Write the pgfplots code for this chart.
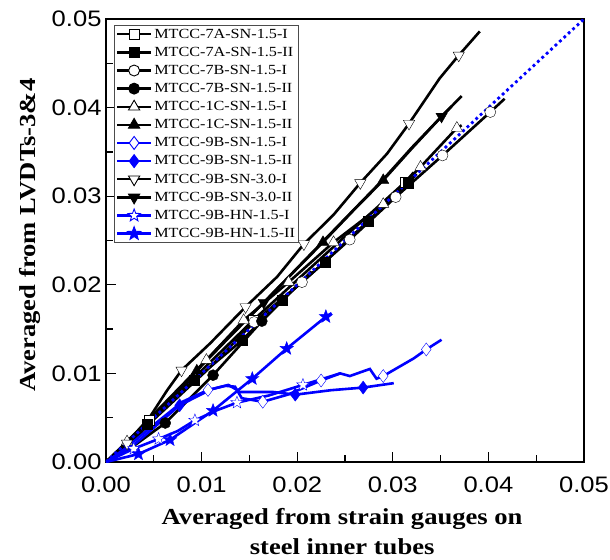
\documentclass[border=0pt]{standalone}
\usepackage{fontspec}
\setmainfont{Liberation Serif}[FakeStretch=1.16]
\setsansfont{Liberation Sans}[FakeStretch=1.14]
\usepackage{pgfplots}
\pgfplotsset{compat=1.18}
\usetikzlibrary{plotmarks}
\definecolor{myblue}{RGB}{0,0,255}
\pgfdeclareplotmark{fstar}{%
  \pgfpathmoveto{\pgfpointpolar{90}{\pgfplotmarksize}}%
  \pgfpathlineto{\pgfpointpolar{126}{0.42\pgfplotmarksize}}%
  \pgfpathlineto{\pgfpointpolar{162}{\pgfplotmarksize}}%
  \pgfpathlineto{\pgfpointpolar{198}{0.42\pgfplotmarksize}}%
  \pgfpathlineto{\pgfpointpolar{234}{\pgfplotmarksize}}%
  \pgfpathlineto{\pgfpointpolar{270}{0.42\pgfplotmarksize}}%
  \pgfpathlineto{\pgfpointpolar{306}{\pgfplotmarksize}}%
  \pgfpathlineto{\pgfpointpolar{342}{0.42\pgfplotmarksize}}%
  \pgfpathlineto{\pgfpointpolar{18}{\pgfplotmarksize}}%
  \pgfpathlineto{\pgfpointpolar{54}{0.42\pgfplotmarksize}}%
  \pgfpathclose
  \pgfusepathqfillstroke}
\pgfplotsset{
  ln/.style={line width=2.6bp, no markers, forget plot},
  mk/.style={only marks, mark options={solid, line width=0.8bp},
    legend image code/.code={\draw[solid, line width=2.4bp] (0bp,0bp) -- (34bp,0bp); \draw plot coordinates {(17bp,0bp)};}},
}
\begin{document}
\begin{tikzpicture}
\begin{axis}[
  scale only axis, width=478bp, height=443bp,
  xmin=0, xmax=0.05, ymin=0, ymax=0.05,
  axis line style={line width=1.8bp},
  xtick={0,0.01,0.02,0.03,0.04,0.05},
  ytick={0,0.01,0.02,0.03,0.04,0.05},
  minor tick num=1,
  tick align=inside, xtick pos=bottom, ytick pos=left,
  major tick length=10bp, minor tick length=7bp,
  every tick/.style={line width=1.3bp, black},
  scaled ticks=false,
  tick label style={font=\fontsize{22.5}{22.5}\sffamily, /pgf/number format/fixed, /pgf/number format/fixed zerofill, /pgf/number format/precision=2, /pgf/number format/assume math mode=true},
  xticklabel style={yshift=-11bp},
  yticklabel style={xshift=-1bp},
  every axis y label/.style={at={(axis description cs:-0.159,0.512)}, rotate=90, anchor=center},
  every axis x label/.style={at={(axis description cs:0.494,-0.097)}, anchor=north, align=center},
  label style={font=\fontsize{23}{30}\selectfont\bfseries},
  xlabel={Averaged from strain gauges on\\steel inner tubes},
  ylabel={Averaged from LVDTs-3\&4},
  clip mode=individual,
  legend cell align=left,
  legend style={at={(0.0167,0.9865)}, anchor=north west, font=\fontsize{14}{14}\selectfont,
    draw=black!70, line width=0.9bp, inner sep=1.5bp, row sep=3.4bp},
]
% ---------- lines ----------
% 7A-SN-1.5-I
\addplot[ln, black] coordinates {(0,0) (0.0045,0.0047) (0.0095,0.0098) (0.0154,0.0160) (0.0230,0.0235) (0.0313,0.0316) (0.0322,0.0327)};
% 7A-SN-1.5-II
\addplot[ln, black] coordinates {(0,0) (0.0043,0.0043) (0.0092,0.0092) (0.0142,0.0137) (0.0184,0.0183) (0.0229,0.0226) (0.0274,0.0272) (0.0316,0.0315) (0.0325,0.0325)};
% 7B-SN-1.5-I
\addplot[ln, black] coordinates {(0,0) (0.0020,0.0018) (0.0050,0.0048) (0.0105,0.0103) (0.0155,0.0158) (0.0205,0.0203) (0.0255,0.0251) (0.0303,0.0299) (0.0352,0.0346) (0.0402,0.0395) (0.0417,0.0410)};
% 7B-SN-1.5-II
\addplot[ln, black] coordinates {(0,0) (0.0025,0.0015) (0.0062,0.0044) (0.0112,0.0098) (0.0163,0.0159) (0.0215,0.0215)};
% 1C-SN-1.5-I
\addplot[ln, black] coordinates {(0,0) (0.0022,0.0023) (0.0105,0.0115) (0.0144,0.0160) (0.0191,0.0203) (0.0238,0.0248) (0.0290,0.0291) (0.0329,0.0333) (0.0367,0.0377) (0.0372,0.0380)};
% 1C-SN-1.5-II
\addplot[ln, black] coordinates {(0,0) (0.0030,0.0025) (0.0060,0.0062) (0.0095,0.0103) (0.0130,0.0142) (0.0165,0.0180) (0.0195,0.0213) (0.0227,0.0248) (0.0258,0.0283) (0.0290,0.0318) (0.0320,0.0354) (0.0351,0.0390) (0.0372,0.0413)};
% 9B-SN-3.0-I
\addplot[ln, black] coordinates {(0,0) (0.0022,0.0021) (0.0046,0.0051) (0.0064,0.0081) (0.0079,0.01035) (0.0109,0.0134) (0.0146,0.0175) (0.0179,0.0209) (0.0207,0.0246) (0.0238,0.0279) (0.0266,0.0315) (0.0294,0.0348) (0.0317,0.0382) (0.0349,0.0433) (0.0369,0.0459) (0.0391,0.0486)};
% 9B-SN-3.0-II
\addplot[ln, black] coordinates {(0,0) (0.0030,0.0026) (0.0060,0.0063) (0.0095,0.0104) (0.0130,0.0143) (0.0165,0.0180) (0.0227,0.0249) (0.0290,0.0319) (0.0320,0.0355) (0.0351,0.0390) (0.0362,0.0402)};
% reference line y = x
\addplot[myblue, line width=2.8bp, dash pattern=on 2.8bp off 3.2bp, forget plot] coordinates {(0,0) (0.05,0.05)};
% 9B-SN-1.5-I
\addplot[ln, myblue] coordinates {(0,0) (0.0020,0.0015) (0.0050,0.0042) (0.0080,0.0068) (0.01067,0.00813) (0.0125,0.0086) (0.0135,0.0085) (0.0142,0.0072) (0.0164,0.0068) (0.0190,0.0076) (0.0225,0.0092) (0.0245,0.0100) (0.0255,0.0097) (0.0276,0.0105) (0.0283,0.0094) (0.0290,0.0097) (0.0322,0.0117) (0.0335,0.0127) (0.0351,0.0138)};
% 9B-SN-1.5-II
\addplot[ln, myblue] coordinates {(0,0) (0.0030,0.0020) (0.0077,0.0064) (0.0110,0.0082) (0.0128,0.0087) (0.0136,0.0082) (0.0140,0.0079) (0.0175,0.0079) (0.0198,0.0076) (0.0235,0.0081) (0.0269,0.0084) (0.0301,0.0089)};
% 9B-HN-1.5-I
\addplot[ln, myblue] coordinates {(0,0) (0.0029,0.0015) (0.0055,0.0026) (0.0075,0.0035) (0.0093,0.0047) (0.0115,0.0058) (0.0137,0.0067) (0.0170,0.0075) (0.0206,0.0087) (0.0245,0.0100)};
% 9B-HN-1.5-II
\addplot[ln, myblue] coordinates {(0,0) (0.0034,0.0009) (0.0067,0.0025) (0.0112,0.0058) (0.0153,0.0094) (0.0189,0.0128) (0.0230,0.0164) (0.0236,0.0168)};
% ---------- marks (legend) ----------
\addplot[mk, black, mark=square*, mark size=5bp, mark options={fill=white}] coordinates {(0.0045,0.0047) (0.0154,0.0160) (0.0313,0.0316)};
\addlegendentry{MTCC-7A-SN-1.5-I}
\addplot[mk, black, mark=square*, mark size=5bp, mark options={fill=black}] coordinates {(0.0043,0.0043) (0.0092,0.0092) (0.0142,0.0137) (0.0184,0.0183) (0.0229,0.0226) (0.0274,0.0272) (0.0316,0.0315)};
\addlegendentry{MTCC-7A-SN-1.5-II}
\addplot[mk, black, mark=*, mark size=5.5bp, mark options={fill=white}] coordinates {(0.0155,0.0158) (0.0205,0.0203) (0.0255,0.0251) (0.0303,0.0299) (0.0352,0.0346) (0.0402,0.0395)};
\addlegendentry{MTCC-7B-SN-1.5-I}
\addplot[mk, black, mark=*, mark size=5.5bp, mark options={fill=black}] coordinates {(0.0062,0.0044) (0.0112,0.0098) (0.0163,0.0159)};
\addlegendentry{MTCC-7B-SN-1.5-II}
\addplot[mk, black, mark=triangle*, mark size=6.5bp, mark options={fill=white}] coordinates {(0.0022,0.0023) (0.0105,0.0115) (0.0144,0.0160) (0.0191,0.0203) (0.0238,0.0248) (0.0290,0.0291) (0.0329,0.0333) (0.0367,0.0377)};
\addlegendentry{MTCC-1C-SN-1.5-I}
\addplot[mk, black, mark=triangle*, mark size=6.5bp, mark options={fill=black}] coordinates {(0.0095,0.0103) (0.0227,0.0248) (0.0290,0.0318)};
\addlegendentry{MTCC-1C-SN-1.5-II}
\addplot[mk, myblue, mark=diamond*, mark size=6.5bp, mark options={fill=white}] coordinates {(0.01067,0.00813) (0.0164,0.0068) (0.0225,0.0092) (0.0290,0.0097) (0.0335,0.0127)};
\addlegendentry{MTCC-9B-SN-1.5-I}
\addplot[mk, myblue, mark=diamond*, mark size=6.5bp, mark options={fill=myblue}] coordinates {(0.0077,0.0064) (0.0198,0.0076) (0.0269,0.0084)};
\addlegendentry{MTCC-9B-SN-1.5-II}
\addplot[mk, black, mark=triangle*, mark size=6.5bp, mark options={fill=white, rotate=180}] coordinates {(0.0022,0.0021) (0.0079,0.01035) (0.0146,0.0175) (0.0207,0.0246) (0.0266,0.0315) (0.0317,0.0382) (0.0369,0.0459)};
\addlegendentry{MTCC-9B-SN-3.0-I}
\addplot[mk, black, mark=triangle*, mark size=6.5bp, mark options={fill=black, rotate=180}] coordinates {(0.0165,0.0180) (0.0351,0.0390)};
\addlegendentry{MTCC-9B-SN-3.0-II}
\addplot[mk, myblue, mark=fstar, mark size=6.5bp, mark options={fill=white}] coordinates {(0.0029,0.0015) (0.0055,0.0026) (0.0093,0.0047) (0.0137,0.0067) (0.0206,0.0087)};
\addlegendentry{MTCC-9B-HN-1.5-I}
\addplot[mk, myblue, mark=fstar, mark size=7bp, mark options={fill=myblue}] coordinates {(0.0034,0.0009) (0.0067,0.0025) (0.0112,0.0058) (0.0153,0.0094) (0.0189,0.0128) (0.0230,0.0164)};
\addlegendentry{MTCC-9B-HN-1.5-II}
\end{axis}
\pgfresetboundingbox
\path ([xshift=-106bp,yshift=-98bp]current axis.south west) rectangle ([xshift=26bp,yshift=19bp]current axis.north east);
\end{tikzpicture}
\end{document}
